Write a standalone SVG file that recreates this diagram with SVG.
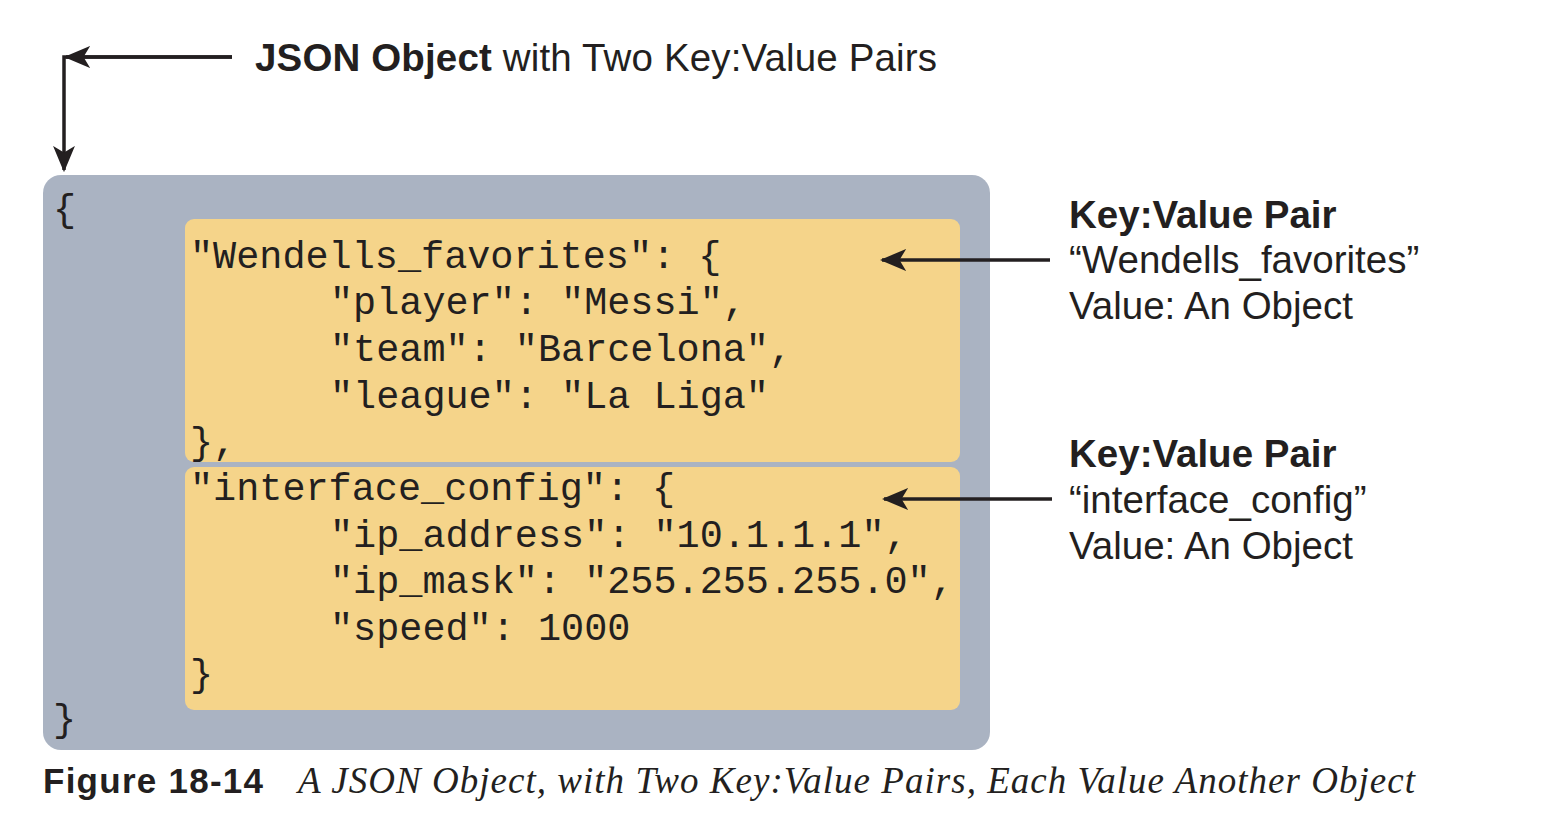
<svg xmlns="http://www.w3.org/2000/svg" width="1564" height="824" viewBox="0 0 1564 824">
<style>
.code{font-family:"Liberation Mono","Courier New",monospace;font-size:38.5px;fill:#231f20}
.lbl{font-family:"Liberation Sans",Arial,sans-serif;font-size:38.5px;fill:#231f20}
.b{font-weight:bold}
.ln{stroke:#231f20;stroke-width:3.5;fill:none}
</style>
<defs>
<marker id="ah" viewBox="0 0 12 10" refX="11" refY="5" markerWidth="7.5" markerHeight="6.5" orient="auto" markerUnits="strokeWidth">
<path d="M0,0 L12,5 L0,10 L3,5 Z" fill="#231f20"/>
</marker>
</defs>
<rect width="1564" height="824" fill="#ffffff"/>
<g id="outer">
<rect x="43" y="175" width="947" height="575" rx="18" fill="#aab3c2"/>
<text class="code" x="53" y="221">{</text>
<text class="code" x="53" y="731">}</text>
</g>
<g id="pair1">
<rect x="185" y="219" width="775" height="243" rx="9" fill="#f5d48a"/>
<text class="code" x="190" y="268">"Wendells_favorites": {</text>
<text class="code" x="330" y="314">"player": "Messi",</text>
<text class="code" x="330" y="361">"team": "Barcelona",</text>
<text class="code" x="330" y="408">"league": "La Liga"</text>
<text class="code" x="190" y="454">},</text>
</g>
<g id="pair2">
<rect x="185" y="467" width="775" height="243" rx="9" fill="#f5d48a"/>
<text class="code" x="190" y="500">"interface_config": {</text>
<text class="code" x="330" y="547">"ip_address": "10.1.1.1",</text>
<text class="code" x="330" y="593">"ip_mask": "255.255.255.0",</text>
<text class="code" x="330" y="640">"speed": 1000</text>
<text class="code" x="190" y="686">}</text>
</g>
<g id="title">
<text class="lbl" x="255" y="71" textLength="682"><tspan class="b">JSON Object</tspan> with Two Key:Value Pairs</text>
</g>
<g id="label1">
<text class="lbl b" x="1069" y="228">Key:Value Pair</text>
<text class="lbl" x="1069" y="273">“Wendells_favorites”</text>
<text class="lbl" x="1069" y="319">Value: An Object</text>
</g>
<g id="label2">
<text class="lbl b" x="1069" y="467">Key:Value Pair</text>
<text class="lbl" x="1069" y="513">“interface_config”</text>
<text class="lbl" x="1069" y="559">Value: An Object</text>
</g>
<g id="connectors">
<path class="ln" d="M232,57 H64 V170" marker-end="url(#ah)"/>
<path class="ln" d="M232,57 H66" marker-end="url(#ah)"/>
<path class="ln" d="M1050,260 H882" marker-end="url(#ah)"/>
<path class="ln" d="M1052,499 H884" marker-end="url(#ah)"/>
</g>
<g id="caption">
<text x="43" y="793" textLength="220" style="font-family:'Liberation Sans',Arial,sans-serif;font-size:35px;font-weight:bold;fill:#231f20">Figure 18-14</text>
<text x="298" y="793" textLength="1117" style="font-family:'Liberation Serif','Times New Roman',serif;font-size:37px;font-style:italic;fill:#231f20">A JSON Object, with Two Key:Value Pairs, Each Value Another Object</text>
</g>
</svg>
